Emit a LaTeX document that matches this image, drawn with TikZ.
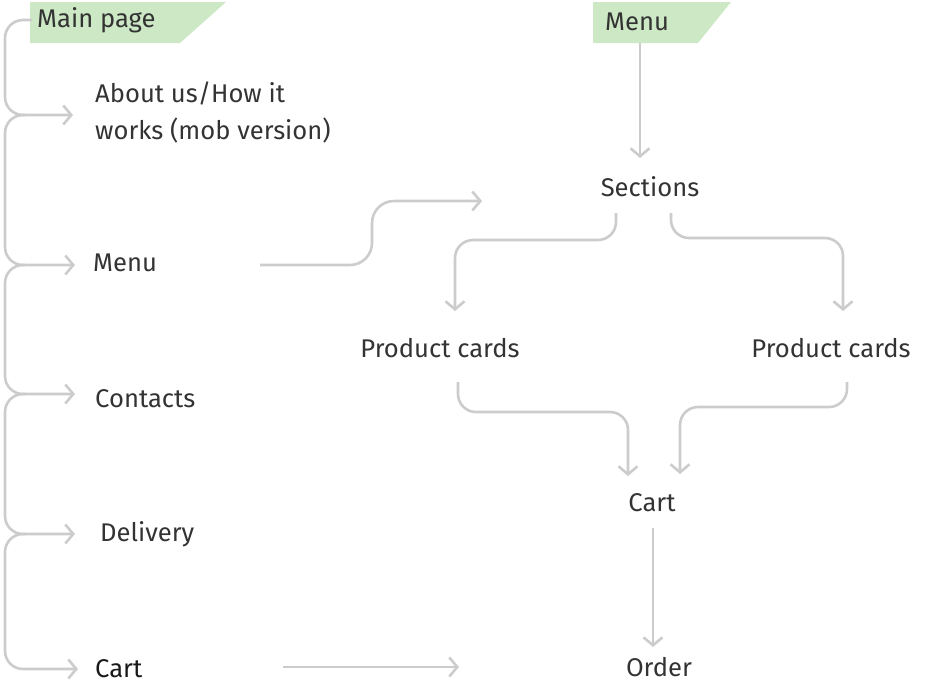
\documentclass[tikz,border=0pt]{standalone}
\usepackage{fontspec}
\setmainfont{Fira Sans}
\usetikzlibrary{arrows.meta}
\definecolor{ln}{HTML}{CCCCCC}
\definecolor{tagg}{HTML}{CDE8C5}
\definecolor{txt}{HTML}{333333}
\begin{document}
\begin{tikzpicture}[x=1pt,y=-1pt,
  lbl/.style={font=\fontsize{25.6}{37}\selectfont, text=txt, inner sep=0pt},
  conn/.style={draw=ln, line width=2.6pt, rounded corners=18pt, -{Straight Barb[length=8pt,width=19pt]}}]
\useasboundingbox (0,0) rectangle (933,689);
% tags
\fill[tagg] (30,2) -- (226,2) -- (180,43) -- (30,43) -- cycle;
\fill[tagg] (593,2) -- (731,2) -- (698,43) -- (593,43) -- cycle;
\node[lbl,anchor=west] (mainp) at (37,20) {Main page};
\node[lbl,anchor=west] (menut) at (605,22) {Menu};
% left column
\node[lbl,anchor=west,align=left] (about) at (95,113) {About us/How it\\works (mob version)};
\node[lbl,anchor=west] (menu) at (93,263) {Menu};
\node[lbl,anchor=west] (contacts) at (95,399) {Contacts};
\node[lbl,anchor=west] (delivery) at (100,534) {Delivery};
\node[lbl,anchor=west,text=black!90] (cartl) at (95,669) {Cart};
% right side
\node[lbl] (sections) at (650,187) {Sections};
\node[lbl] (pcl) at (440,348) {Product cards};
\node[lbl] (pcr) at (831,348) {Product cards};
\node[lbl] (cart) at (652,503) {Cart};
\node[lbl] (order) at (659,667) {Order};
% coordinates
\coordinate (m0) at (32,20);
\coordinate (a1) at (73,115);
\coordinate (a2) at (75,265);
\coordinate (a3) at (75,394);
\coordinate (a4) at (75,534);
\coordinate (a5) at (78,669);
\coordinate (menuout) at (260,265);
\coordinate (secin) at (482,201);
\coordinate (menutagout) at (640,43);
\coordinate (secout) at (640,158);
\coordinate (cartout) at (283,667);
\coordinate (cartend) at (459,667);
% left chain
\draw[conn] (m0) -- (5,20) -- (5,115) -- (a1);
\draw[conn] (25,115) -- (5,115) -- (5,265) -- (a2);
\draw[conn] (25,265) -- (5,265) -- (5,394) -- (a3);
\draw[conn] (25,394) -- (5,394) -- (5,534) -- (a4);
\draw[conn] (25,534) -- (5,534) -- (5,669) -- (a5);
% middle
\draw[conn,rounded corners=22pt] (menuout) -- (372,265) -- (372,201) -- (secin);
\draw[conn] (menutagout) -- (secout);
\draw[conn] (616,213) -- (616,240) -- (455,240) -- (455,311);
\draw[conn] (671,213) -- (671,238) -- (843,238) -- (843,311);
\draw[conn] (458,382) -- (458,412) -- (628,412) -- (628,476);
\draw[conn] (847,382) -- (847,407) -- (680,407) -- (680,474);
\draw[conn] (653,528) -- (653,647);
\draw[conn] (cartout) -- (cartend);
\end{tikzpicture}
\end{document}
